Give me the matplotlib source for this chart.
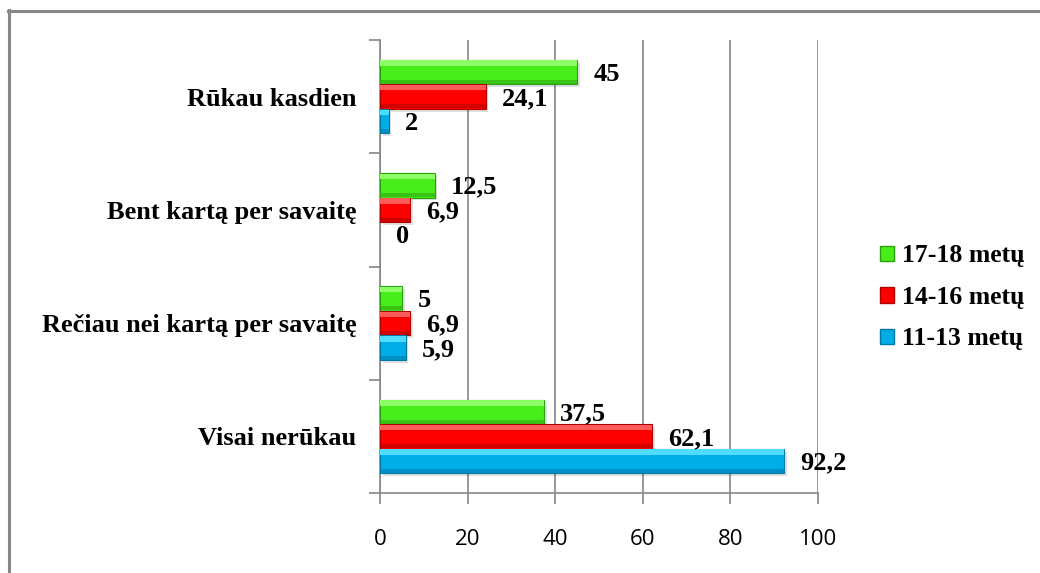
import numpy as np
import matplotlib
matplotlib.use("Agg")
from matplotlib import pyplot as plt
from matplotlib.patches import Patch
from matplotlib.lines import Line2D

categories = ["Visai nerūkau", "Rečiau nei kartą per savaitę",
              "Bent kartą per savaitę", "Rūkau kasdien"]
series_names = ["17-18 metų", "14-16 metų", "11-13 metų"]
val_17_18 = [37.5, 5, 12.5, 45]
val_14_16 = [62.1, 6.9, 6.9, 24.1]
val_11_13 = [92.2, 5.9, 0, 2]
x_ticks = [0, 20, 40, 60, 80, 100]

# base, light (top bevel), dark (bottom bevel / edge)
colors = {
    "17-18 metų": ("#47EE1C", "#8CFF66", "#2DA010"),
    "14-16 metų": ("#FF0000", "#FF5A5A", "#B00000"),
    "11-13 metų": ("#00ADE6", "#4FDCFF", "#0078A8"),
}

SERIF = "Liberation Serif"
SANS = "Open Sans"

fig = plt.figure(figsize=(10.4, 5.73), dpi=100)
ax = fig.add_axes([0.3654, 0.1396, 0.4212, 0.7906])

y = np.arange(len(categories))
h = 0.217
offsets = [h, 0.0, -h]
all_vals = [val_17_18, val_14_16, val_11_13]


def bevel_bars(ax, ypos, vals, base, light, dark):
    lw = [0.8 if v > 0 else 0 for v in vals]
    # shadow
    ax.barh(ypos - 0.025, vals, height=h, left=0.6, color="#000000", alpha=0.12,
            zorder=2, linewidth=0)
    ax.barh(ypos, vals, height=h, color=base, edgecolor=dark, linewidth=lw, zorder=3)
    ax.barh(ypos + h * 0.36, vals, height=h * 0.22, color=light, linewidth=0, zorder=4)
    ax.barh(ypos - h * 0.40, vals, height=h * 0.16, color=dark, alpha=0.55,
            linewidth=0, zorder=4)


for name, vals, off in zip(series_names, all_vals, offsets):
    base, light, dark = colors[name]
    ypos = y + off
    bevel_bars(ax, ypos, vals, base, light, dark)
    for yy, v in zip(ypos, vals):
        ax.annotate(f"{v:g}".replace(".", ","), xy=(v, yy), xytext=(16, -2),
                    textcoords="offset pixels",
                    ha="left", va="center", fontsize=19, fontweight="bold",
                    family=SERIF, color="black", zorder=6)

ax.set_xlim(0, 100)
ax.set_ylim(-0.5, len(categories) - 0.5)
ax.set_xticks(x_ticks)
ax.set_xticklabels([str(t) for t in x_ticks], family=SANS, fontsize=16)
ax.set_yticks(np.arange(-0.5, len(categories), 1.0))
ax.set_yticklabels([])
ax.set_yticks(y, minor=True)
ax.set_yticklabels(categories, minor=True, family=SERIF, fontsize=19,
                   fontweight="bold")
ax.tick_params(axis="y", which="minor", length=0, pad=17)
ax.tick_params(axis="y", which="major", length=8, color="#868686", width=1.2)
ax.tick_params(axis="x", length=8, color="#868686", width=1.2, pad=18)

ax.grid(axis="x", color="#868686", linewidth=1.2, zorder=0)
ax.set_axisbelow(True)
for s in ["top", "right"]:
    ax.spines[s].set_visible(False)
for s in ["left", "bottom"]:
    ax.spines[s].set_color("#868686")
    ax.spines[s].set_linewidth(1.2)

handles = [Patch(facecolor=colors[n][0], edgecolor=colors[n][2], linewidth=1)
           for n in series_names]
leg = fig.legend(handles, series_names, loc="center left",
                 bbox_to_anchor=(0.846, 0.481), frameon=False,
                 prop={"family": SERIF, "weight": "bold", "size": 18.5},
                 handlelength=0.55, handleheight=0.55, handletextpad=0.3,
                 labelspacing=0.72, borderpad=0, borderaxespad=0)

# outer chart frame (only top and left edges are visible in the crop)
fig.add_artist(Line2D([8 / 1040, 1.0], [1 - 10.5 / 573, 1 - 10.5 / 573],
                      color="#878787", linewidth=2.2, transform=fig.transFigure))
fig.add_artist(Line2D([8.5 / 1040, 8.5 / 1040], [0.0, 1 - 10 / 573],
                      color="#878787", linewidth=2.2, transform=fig.transFigure))

fig.savefig("out.png", dpi=100, facecolor="white")
